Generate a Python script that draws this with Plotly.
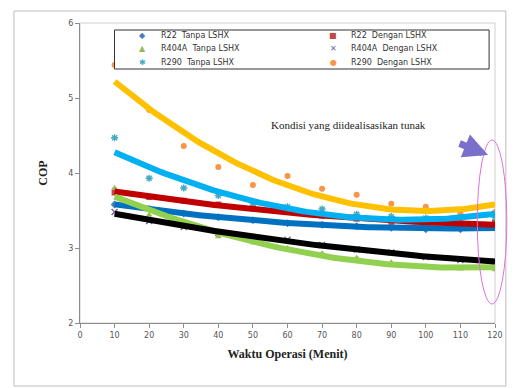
import numpy as np
import plotly.graph_objects as go

waktu = [10, 20, 30, 40, 50, 60, 70, 80, 90, 100, 110, 120]

r22_tanpa = [3.58, 3.52, 3.46, 3.41, 3.37, 3.33, 3.31, 3.29, 3.27, 3.25, 3.25, 3.28]
r22_dengan = [3.74, 3.68, 3.63, 3.58, 3.53, 3.48, 3.43, 3.39, 3.35, 3.32, 3.31, 3.34]
r404a_tanpa = [3.80, 3.44, 3.28, 3.15, 3.07, 3.00, 2.93, 2.87, 2.81, 2.76, 2.72, 2.71]
r404a_dengan = [3.48, 3.36, 3.28, 3.20, 3.14, 3.11, 3.04, 2.98, 2.94, 2.88, 2.84, 2.82]
r290_tanpa = [4.47, 3.93, 3.80, 3.70, 3.60, 3.55, 3.52, 3.45, 3.42, 3.40, 3.38, 3.41]
r290_dengan = [5.44, 4.84, 4.36, 4.08, 3.84, 3.96, 3.79, 3.71, 3.59, 3.55, 3.46, 3.48]

labels = ["R22  Tanpa LSHX", "R22  Dengan LSHX", "R404A  Tanpa LSHX",
          "R404A  Dengan LSHX", "R290  Tanpa LSHX", "R290  Dengan LSHX"]
values = [r22_tanpa, r22_dengan, r404a_tanpa, r404a_dengan, r290_tanpa, r290_dengan]
symbols = ["diamond", "square", "triangle-up", "x-thin", "asterisk", "circle"]
legend_glyphs = ["◆", "■", "▲", "✕", "✱", "●"]
marker_colors = ["#4A7EBB", "#BE4B48", "#98B954", "#7D60A0", "#46AAC5", "#F79646"]
trend_colors = ["#0070C0", "#C00000", "#92D050", "#000000", "#00B0F0", "#FFC000"]

fig = go.Figure()
for name, vals, sym, mcol in zip(labels, values, symbols, marker_colors):
    lw = 1.4 if sym in ("x-thin", "asterisk") else 0
    fig.add_trace(go.Scatter(
        x=waktu, y=vals, mode="markers", name=name, showlegend=False,
        marker=dict(symbol=sym, size=6, color=mcol, line=dict(width=lw, color=mcol)),
    ))

xs = np.linspace(waktu[0], waktu[-1], 100)
for name, vals, lcol in zip(labels, values, trend_colors):
    coef = np.polyfit(waktu, vals, 2)
    fig.add_trace(go.Scatter(
        x=xs, y=np.polyval(coef, xs), mode="lines", showlegend=False,
        line=dict(color=lcol, width=6), hoverinfo="skip",
    ))

fig.update_layout(
    width=515, height=388,
    margin=dict(l=80, r=14, t=23, b=65),
    paper_bgcolor="white", plot_bgcolor="white",
    font=dict(family="DejaVu Sans", size=8, color="#555555"),
    showlegend=False,
    xaxis=dict(range=[0, 120], dtick=10, showgrid=False, zeroline=False,
               showline=True, linecolor="#8c8c8c", linewidth=1,
               ticks="outside", ticklen=4, tickcolor="#8c8c8c",
               tickfont=dict(size=8, color="#555555"),
               title=dict(text="<b>Waktu Operasi (Menit)</b>",
                          font=dict(family="Liberation Serif", size=12, color="#222222"),
                          standoff=11)),
    yaxis=dict(range=[2, 6], dtick=1, showgrid=False, zeroline=False,
               showline=True, linecolor="#8c8c8c", linewidth=1,
               ticks="outside", ticklen=4, tickcolor="#8c8c8c",
               tickfont=dict(size=8, color="#555555"),
               title=dict(text="<b>COP</b>",
                          font=dict(family="Liberation Serif", size=12, color="#222222"),
                          standoff=18)),
)

def px(xp):
    return (xp - 80) / 421

def py(yp):
    return (323 - yp) / 300

# plot area frame and outer chart frame
fig.add_shape(type="rect", xref="paper", yref="paper", x0=0, x1=1, y0=0, y1=1,
              line=dict(color="#d0d0d0", width=1), layer="below")
fig.add_shape(type="rect", xref="paper", yref="paper",
              x0=px(13), x1=px(512), y0=py(386), y1=py(11),
              line=dict(color="#bdbdbd", width=1))

# manual legend (two columns, three rows)
fig.add_shape(type="rect", xref="paper", yref="paper",
              x0=px(115), x1=px(495), y0=py(69), y1=py(30),
              line=dict(color="#333333", width=1), fillcolor="white", layer="above")
col_marker = [143, 337]
col_text = [160, 353]
row_y = [35, 48, 62]
for i, (lab, glyph, col) in enumerate(zip(labels, legend_glyphs, marker_colors)):
    c, r = i % 2, i // 2
    fig.add_annotation(text=glyph, xref="paper", yref="paper",
                       x=px(col_marker[c]), y=py(row_y[r]), xanchor="center", yanchor="middle",
                       showarrow=False, font=dict(family="DejaVu Sans", size=8, color=col))
    fig.add_annotation(text=lab, xref="paper", yref="paper",
                       x=px(col_text[c]), y=py(row_y[r]), xanchor="left", yanchor="middle",
                       showarrow=False, font=dict(family="DejaVu Sans", size=8, color="#333333"))

# ellipse highlighting the steady region
fig.add_shape(type="circle", xref="paper", yref="paper",
              x0=px(483), x1=px(513), y0=py(304), y1=py(140),
              line=dict(color="#E070D8", width=1))

fig.add_annotation(text="Kondisi yang diidealisasikan tunak", xref="paper", yref="paper",
                   x=px(272), y=py(125), xanchor="left", yanchor="middle",
                   showarrow=False,
                   font=dict(family="Liberation Serif", size=11, color="#222222"))

fig.add_annotation(xref="paper", yref="paper", x=px(494), y=py(155),
                   ax=-30, ay=-12, showarrow=True, arrowhead=2, arrowsize=0.7,
                   arrowwidth=7, arrowcolor="#7A6FCB", text="")

fig.write_html("out.html")
